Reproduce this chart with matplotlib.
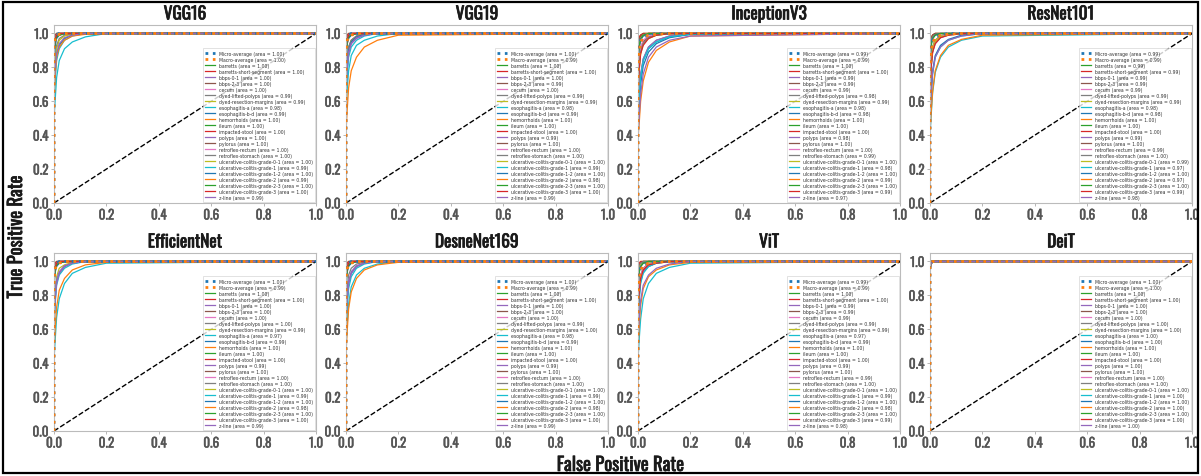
import matplotlib
matplotlib.use("Agg")
import matplotlib.pyplot as plt
import matplotlib.patheffects as pe
from matplotlib.patches import Rectangle

models = ["VGG16", "VGG19", "InceptionV3", "ResNet101",
          "EfficientNet", "DesneNet169", "ViT", "DeiT"]

classes = ["barretts", "barretts-short-segment", "bbps-0-1", "bbps-2-3", "cecum",
           "dyed-lifted-polyps", "dyed-resection-margins", "esophagitis-a",
           "esophagitis-b-d", "hemorrhoids", "ileum", "impacted-stool", "polyps",
           "pylorus", "retroflex-rectum", "retroflex-stomach",
           "ulcerative-colitis-grade-0-1", "ulcerative-colitis-grade-1",
           "ulcerative-colitis-grade-1-2", "ulcerative-colitis-grade-2",
           "ulcerative-colitis-grade-2-3", "ulcerative-colitis-grade-3", "z-line"]

# shared false-positive-rate grid for the per-class curves
fpr_grid = [0.0, 0.0, 0.005, 0.01, 0.02, 0.04, 0.07, 0.12, 0.2, 1.0]

# areas: micro, macro, then each class
auc_vgg16 = [1.00, 1.00, 1.00, 1.00, 1.00, 1.00, 1.00, 0.99, 0.99, 0.98, 0.99, 1.00, 1.00,
             1.00, 1.00, 1.00, 1.00, 1.00, 1.00, 0.99, 1.00, 0.99, 1.00, 1.00, 0.99]
auc_vgg19 = [1.00, 0.99, 1.00, 1.00, 1.00, 0.99, 1.00, 0.99, 0.99, 0.98, 0.99, 1.00, 1.00,
             1.00, 0.99, 1.00, 1.00, 1.00, 1.00, 0.99, 1.00, 0.98, 1.00, 1.00, 0.99]
auc_inception = [0.99, 0.99, 1.00, 1.00, 0.99, 0.99, 0.99, 0.98, 0.99, 0.98, 0.98, 1.00, 1.00,
                 1.00, 0.98, 1.00, 1.00, 0.99, 1.00, 0.98, 1.00, 0.99, 1.00, 0.99, 0.97]
auc_resnet = [0.99, 0.99, 0.99, 0.99, 0.99, 0.99, 0.99, 0.99, 0.99, 0.98, 0.98, 1.00, 1.00,
              1.00, 0.99, 1.00, 0.99, 1.00, 0.99, 0.97, 1.00, 0.97, 1.00, 0.99, 0.98]
auc_efficient = [1.00, 0.99, 1.00, 1.00, 1.00, 1.00, 1.00, 1.00, 0.99, 0.97, 0.99, 1.00, 1.00,
                 1.00, 0.99, 1.00, 1.00, 1.00, 1.00, 0.99, 1.00, 0.98, 1.00, 1.00, 0.99]
auc_densenet = [1.00, 0.99, 1.00, 1.00, 1.00, 1.00, 1.00, 0.99, 1.00, 0.98, 0.99, 1.00, 1.00,
                1.00, 0.99, 1.00, 1.00, 1.00, 1.00, 0.99, 1.00, 0.98, 1.00, 1.00, 0.99]
auc_vit = [0.99, 0.99, 1.00, 1.00, 0.99, 0.99, 0.99, 0.99, 0.99, 0.97, 0.99, 1.00, 1.00,
           1.00, 0.99, 1.00, 0.99, 1.00, 1.00, 0.99, 1.00, 0.98, 1.00, 0.99, 0.98]
auc_deit = [1.00] * 25

# true-positive rates on fpr_grid: micro, macro, then each class
tpr_vgg16 = [
    [0, .95, .985, .995, 1, 1, 1, 1, 1, 1],
    [0, .92, .97, .99, .995, 1, 1, 1, 1, 1],
    [0, .92, .97, .99, 1, 1, 1, 1, 1, 1],
    [0, .90, .96, .98, .995, 1, 1, 1, 1, 1],
    [0, .95, .98, .99, 1, 1, 1, 1, 1, 1],
    [0, .94, .98, .99, 1, 1, 1, 1, 1, 1],
    [0, .90, .96, .985, .995, 1, 1, 1, 1, 1],
    [0, .75, .87, .93, .97, .99, 1, 1, 1, 1],
    [0, .70, .84, .91, .96, .985, .995, 1, 1, 1],
    [0, .50, .62, .74, .84, .91, .95, .98, 1, 1],
    [0, .65, .78, .87, .93, .97, .99, 1, 1, 1],
    [0, .97, .99, 1, 1, 1, 1, 1, 1, 1],
    [0, .96, .99, 1, 1, 1, 1, 1, 1, 1],
    [0, .97, .99, 1, 1, 1, 1, 1, 1, 1],
    [0, .88, .95, .98, .99, 1, 1, 1, 1, 1],
    [0, .95, .98, .995, 1, 1, 1, 1, 1, 1],
    [0, .93, .97, .99, 1, 1, 1, 1, 1, 1],
    [0, .94, .98, .99, 1, 1, 1, 1, 1, 1],
    [0, .90, .96, .98, .99, 1, 1, 1, 1, 1],
    [0, .60, .74, .84, .91, .96, .985, 1, 1, 1],
    [0, .85, .93, .97, .99, 1, 1, 1, 1, 1],
    [0, .62, .76, .86, .92, .96, .985, .995, 1, 1],
    [0, .88, .95, .98, .99, 1, 1, 1, 1, 1],
    [0, .92, .97, .99, 1, 1, 1, 1, 1, 1],
    [0, .68, .80, .88, .94, .975, .99, 1, 1, 1],
]
tpr_vgg19 = [
    [0, .94, .98, .99, 1, 1, 1, 1, 1, 1],
    [0, .90, .96, .98, .99, 1, 1, 1, 1, 1],
    [0, .93, .98, .99, 1, 1, 1, 1, 1, 1],
    [0, .88, .95, .98, .99, 1, 1, 1, 1, 1],
    [0, .94, .98, .99, 1, 1, 1, 1, 1, 1],
    [0, .72, .85, .92, .96, .985, .995, 1, 1, 1],
    [0, .92, .97, .99, 1, 1, 1, 1, 1, 1],
    [0, .74, .86, .92, .96, .985, 1, 1, 1, 1],
    [0, .68, .82, .90, .95, .98, .995, 1, 1, 1],
    [0, .55, .68, .78, .87, .93, .96, .985, 1, 1],
    [0, .70, .83, .90, .95, .98, .995, 1, 1, 1],
    [0, .97, .99, 1, 1, 1, 1, 1, 1, 1],
    [0, .96, .99, 1, 1, 1, 1, 1, 1, 1],
    [0, .96, .99, 1, 1, 1, 1, 1, 1, 1],
    [0, .66, .80, .89, .94, .975, .99, 1, 1, 1],
    [0, .95, .98, .99, 1, 1, 1, 1, 1, 1],
    [0, .92, .97, .99, 1, 1, 1, 1, 1, 1],
    [0, .93, .97, .99, 1, 1, 1, 1, 1, 1],
    [0, .88, .95, .98, .99, 1, 1, 1, 1, 1],
    [0, .62, .76, .86, .92, .96, .985, 1, 1, 1],
    [0, .86, .94, .97, .99, 1, 1, 1, 1, 1],
    [0, .42, .56, .68, .78, .86, .92, .96, .99, 1],
    [0, .88, .95, .98, .99, 1, 1, 1, 1, 1],
    [0, .92, .97, .99, 1, 1, 1, 1, 1, 1],
    [0, .66, .80, .88, .94, .97, .99, 1, 1, 1],
]
tpr_inception = [
    [0, .85, .93, .96, .98, .99, 1, 1, 1, 1],
    [0, .80, .90, .95, .975, .99, .995, 1, 1, 1],
    [0, .88, .95, .98, .99, 1, 1, 1, 1, 1],
    [0, .85, .93, .97, .99, 1, 1, 1, 1, 1],
    [0, .72, .84, .91, .95, .98, .995, 1, 1, 1],
    [0, .70, .82, .90, .95, .98, .99, 1, 1, 1],
    [0, .74, .86, .92, .96, .985, .995, 1, 1, 1],
    [0, .50, .64, .75, .85, .92, .96, .985, 1, 1],
    [0, .66, .80, .88, .94, .97, .99, 1, 1, 1],
    [0, .48, .62, .74, .84, .91, .95, .98, .995, 1],
    [0, .45, .58, .70, .81, .89, .94, .975, .995, 1],
    [0, .94, .98, .99, 1, 1, 1, 1, 1, 1],
    [0, .93, .97, .99, 1, 1, 1, 1, 1, 1],
    [0, .95, .98, .99, 1, 1, 1, 1, 1, 1],
    [0, .52, .65, .76, .85, .92, .96, .985, 1, 1],
    [0, .90, .96, .98, .995, 1, 1, 1, 1, 1],
    [0, .86, .94, .97, .99, 1, 1, 1, 1, 1],
    [0, .68, .81, .89, .94, .975, .99, 1, 1, 1],
    [0, .85, .93, .97, .99, 1, 1, 1, 1, 1],
    [0, .50, .63, .74, .84, .91, .95, .98, .995, 1],
    [0, .84, .92, .96, .985, .995, 1, 1, 1, 1],
    [0, .38, .48, .60, .72, .83, .90, .95, .985, 1],
    [0, .86, .93, .97, .99, 1, 1, 1, 1, 1],
    [0, .66, .79, .88, .93, .97, .99, 1, 1, 1],
    [0, .40, .52, .64, .76, .86, .92, .96, .985, 1],
]
tpr_resnet = [
    [0, .84, .92, .96, .98, .99, 1, 1, 1, 1],
    [0, .80, .90, .95, .97, .99, .995, 1, 1, 1],
    [0, .72, .85, .92, .96, .985, .995, 1, 1, 1],
    [0, .70, .84, .91, .96, .98, .995, 1, 1, 1],
    [0, .74, .86, .92, .96, .985, 1, 1, 1, 1],
    [0, .70, .83, .90, .95, .98, .995, 1, 1, 1],
    [0, .72, .85, .91, .96, .985, .995, 1, 1, 1],
    [0, .68, .82, .90, .95, .98, .995, 1, 1, 1],
    [0, .73, .85, .92, .96, .985, .995, 1, 1, 1],
    [0, .52, .65, .76, .86, .92, .96, .985, 1, 1],
    [0, .55, .68, .78, .87, .93, .965, .99, 1, 1],
    [0, .94, .98, .99, 1, 1, 1, 1, 1, 1],
    [0, .93, .97, .99, 1, 1, 1, 1, 1, 1],
    [0, .93, .97, .99, 1, 1, 1, 1, 1, 1],
    [0, .68, .81, .89, .94, .975, .99, 1, 1, 1],
    [0, .92, .97, .99, 1, 1, 1, 1, 1, 1],
    [0, .70, .83, .90, .95, .98, .995, 1, 1, 1],
    [0, .90, .96, .98, .995, 1, 1, 1, 1, 1],
    [0, .70, .82, .90, .95, .98, .99, 1, 1, 1],
    [0, .40, .53, .65, .77, .86, .92, .96, .985, 1],
    [0, .86, .94, .97, .99, 1, 1, 1, 1, 1],
    [0, .42, .55, .66, .78, .87, .93, .965, .99, 1],
    [0, .86, .93, .97, .99, 1, 1, 1, 1, 1],
    [0, .68, .81, .89, .94, .975, .99, 1, 1, 1],
    [0, .54, .66, .77, .86, .92, .96, .985, 1, 1],
]
tpr_efficient = [
    [0, .95, .98, .99, 1, 1, 1, 1, 1, 1],
    [0, .90, .96, .98, .99, 1, 1, 1, 1, 1],
    [0, .94, .98, .99, 1, 1, 1, 1, 1, 1],
    [0, .90, .96, .98, .995, 1, 1, 1, 1, 1],
    [0, .95, .98, .99, 1, 1, 1, 1, 1, 1],
    [0, .93, .97, .99, 1, 1, 1, 1, 1, 1],
    [0, .92, .97, .99, 1, 1, 1, 1, 1, 1],
    [0, .89, .95, .98, .99, 1, 1, 1, 1, 1],
    [0, .72, .84, .91, .96, .98, .995, 1, 1, 1],
    [0, .42, .55, .67, .78, .87, .93, .965, .99, 1],
    [0, .66, .79, .88, .93, .97, .99, 1, 1, 1],
    [0, .97, .99, 1, 1, 1, 1, 1, 1, 1],
    [0, .96, .99, 1, 1, 1, 1, 1, 1, 1],
    [0, .96, .99, 1, 1, 1, 1, 1, 1, 1],
    [0, .68, .81, .89, .94, .975, .99, 1, 1, 1],
    [0, .95, .98, .99, 1, 1, 1, 1, 1, 1],
    [0, .93, .97, .99, 1, 1, 1, 1, 1, 1],
    [0, .93, .97, .99, 1, 1, 1, 1, 1, 1],
    [0, .88, .95, .98, .99, 1, 1, 1, 1, 1],
    [0, .62, .76, .86, .92, .96, .985, 1, 1, 1],
    [0, .86, .94, .97, .99, 1, 1, 1, 1, 1],
    [0, .48, .62, .73, .83, .90, .95, .98, .995, 1],
    [0, .88, .95, .98, .99, 1, 1, 1, 1, 1],
    [0, .92, .97, .99, 1, 1, 1, 1, 1, 1],
    [0, .64, .78, .87, .93, .97, .99, 1, 1, 1],
]
tpr_densenet = [
    [0, .95, .98, .99, 1, 1, 1, 1, 1, 1],
    [0, .90, .96, .98, .99, 1, 1, 1, 1, 1],
    [0, .94, .98, .99, 1, 1, 1, 1, 1, 1],
    [0, .91, .96, .985, .995, 1, 1, 1, 1, 1],
    [0, .95, .98, .99, 1, 1, 1, 1, 1, 1],
    [0, .93, .97, .99, 1, 1, 1, 1, 1, 1],
    [0, .92, .97, .99, 1, 1, 1, 1, 1, 1],
    [0, .72, .85, .92, .96, .985, .995, 1, 1, 1],
    [0, .90, .96, .98, .99, 1, 1, 1, 1, 1],
    [0, .50, .64, .75, .85, .92, .96, .985, 1, 1],
    [0, .64, .78, .87, .93, .97, .99, 1, 1, 1],
    [0, .97, .99, 1, 1, 1, 1, 1, 1, 1],
    [0, .96, .99, 1, 1, 1, 1, 1, 1, 1],
    [0, .96, .99, 1, 1, 1, 1, 1, 1, 1],
    [0, .66, .80, .88, .94, .975, .99, 1, 1, 1],
    [0, .95, .98, .99, 1, 1, 1, 1, 1, 1],
    [0, .93, .97, .99, 1, 1, 1, 1, 1, 1],
    [0, .93, .97, .99, 1, 1, 1, 1, 1, 1],
    [0, .88, .95, .98, .99, 1, 1, 1, 1, 1],
    [0, .60, .74, .84, .91, .96, .985, 1, 1, 1],
    [0, .86, .94, .97, .99, 1, 1, 1, 1, 1],
    [0, .46, .60, .72, .82, .90, .95, .98, .995, 1],
    [0, .88, .95, .98, .99, 1, 1, 1, 1, 1],
    [0, .92, .97, .99, 1, 1, 1, 1, 1, 1],
    [0, .64, .78, .87, .93, .97, .99, 1, 1, 1],
]
tpr_vit = [
    [0, .86, .93, .96, .98, .99, 1, 1, 1, 1],
    [0, .80, .90, .95, .975, .99, .995, 1, 1, 1],
    [0, .92, .97, .99, 1, 1, 1, 1, 1, 1],
    [0, .89, .95, .98, .99, 1, 1, 1, 1, 1],
    [0, .72, .85, .92, .96, .985, .995, 1, 1, 1],
    [0, .70, .84, .91, .96, .98, .995, 1, 1, 1],
    [0, .74, .86, .92, .96, .985, 1, 1, 1, 1],
    [0, .70, .83, .90, .95, .98, .995, 1, 1, 1],
    [0, .72, .85, .91, .96, .985, .995, 1, 1, 1],
    [0, .42, .55, .66, .78, .87, .93, .965, .99, 1],
    [0, .66, .80, .88, .94, .97, .99, 1, 1, 1],
    [0, .96, .99, 1, 1, 1, 1, 1, 1, 1],
    [0, .95, .98, .99, 1, 1, 1, 1, 1, 1],
    [0, .96, .99, 1, 1, 1, 1, 1, 1, 1],
    [0, .68, .81, .89, .94, .975, .99, 1, 1, 1],
    [0, .93, .97, .99, 1, 1, 1, 1, 1, 1],
    [0, .72, .84, .91, .96, .98, .995, 1, 1, 1],
    [0, .92, .97, .99, 1, 1, 1, 1, 1, 1],
    [0, .88, .95, .98, .99, 1, 1, 1, 1, 1],
    [0, .64, .78, .87, .93, .97, .99, 1, 1, 1],
    [0, .86, .94, .97, .99, 1, 1, 1, 1, 1],
    [0, .50, .63, .74, .84, .91, .95, .98, .995, 1],
    [0, .87, .94, .97, .99, 1, 1, 1, 1, 1],
    [0, .70, .82, .90, .95, .98, .99, 1, 1, 1],
    [0, .54, .67, .77, .86, .92, .96, .985, 1, 1],
]
tpr_deit = [
    [0, .98, .995, 1, 1, 1, 1, 1, 1, 1],
    [0, .97, .99, 1, 1, 1, 1, 1, 1, 1],
    [0, .98, 1, 1, 1, 1, 1, 1, 1, 1],
    [0, .97, .99, 1, 1, 1, 1, 1, 1, 1],
    [0, .99, 1, 1, 1, 1, 1, 1, 1, 1],
    [0, .98, 1, 1, 1, 1, 1, 1, 1, 1],
    [0, .97, .99, 1, 1, 1, 1, 1, 1, 1],
    [0, .98, 1, 1, 1, 1, 1, 1, 1, 1],
    [0, .96, .99, 1, 1, 1, 1, 1, 1, 1],
    [0, .95, .985, .995, 1, 1, 1, 1, 1, 1],
    [0, .96, .99, 1, 1, 1, 1, 1, 1, 1],
    [0, .99, 1, 1, 1, 1, 1, 1, 1, 1],
    [0, .99, 1, 1, 1, 1, 1, 1, 1, 1],
    [0, .99, 1, 1, 1, 1, 1, 1, 1, 1],
    [0, .96, .99, 1, 1, 1, 1, 1, 1, 1],
    [0, .99, 1, 1, 1, 1, 1, 1, 1, 1],
    [0, .98, 1, 1, 1, 1, 1, 1, 1, 1],
    [0, .98, 1, 1, 1, 1, 1, 1, 1, 1],
    [0, .97, .99, 1, 1, 1, 1, 1, 1, 1],
    [0, .96, .99, 1, 1, 1, 1, 1, 1, 1],
    [0, .97, .99, 1, 1, 1, 1, 1, 1, 1],
    [0, .95, .985, 1, 1, 1, 1, 1, 1, 1],
    [0, .97, .99, 1, 1, 1, 1, 1, 1, 1],
    [0, .98, 1, 1, 1, 1, 1, 1, 1, 1],
    [0, .96, .99, 1, 1, 1, 1, 1, 1, 1],
]

all_auc = [auc_vgg16, auc_vgg19, auc_inception, auc_resnet,
           auc_efficient, auc_densenet, auc_vit, auc_deit]
all_tpr = [tpr_vgg16, tpr_vgg19, tpr_inception, tpr_resnet,
           tpr_efficient, tpr_densenet, tpr_vit, tpr_deit]

cond = ["Oswald", "Roboto Condensed", "DejaVu Sans"]
plt.rcParams["font.family"] = cond
plt.rcParams["font.stretch"] = "condensed"

W, H = 1201, 477
fig = plt.figure(figsize=(W / 100, H / 100), dpi=100)
fig.patches.append(Rectangle((3 / W, 3 / H), (W - 6) / W, (H - 6) / H,
                             transform=fig.transFigure, fill=False,
                             edgecolor="black", linewidth=1.6))

bold_title = [pe.withStroke(linewidth=0.5, foreground="#1a1a1a")]
bold_tick = [pe.withStroke(linewidth=0.3, foreground="#555555")]

col_left = [54, 346, 638, 930]
ax_w = 262
row_top = [26, 254]
ax_h = 178
cycle = plt.rcParams["axes.prop_cycle"].by_key()["color"]

for i, name in enumerate(models):
    r, c = divmod(i, 4)
    left = col_left[c] / W
    bottom = 1 - (row_top[r] + ax_h) / H
    ax = fig.add_axes([left, bottom, ax_w / W, ax_h / H])
    aucs = all_auc[i]
    tprs = all_tpr[i]
    labels = ["Micro-average", "Macro-average"] + classes
    for k, lab in enumerate(labels):
        color = cycle[k % len(cycle)]
        if k < 2:
            ax.plot(fpr_grid, tprs[k], linestyle=":", linewidth=2, color=color,
                    zorder=4, label=f"{lab} (area = {aucs[k]:.2f})")
        else:
            ax.plot(fpr_grid, tprs[k], linewidth=0.9, color=color, zorder=2,
                    label=f"{lab} (area = {aucs[k]:.2f})")
    ax.plot([0, 1], [0, 1], "k--", linewidth=1, zorder=3)
    ax.set_xlim(0, 1)
    ax.set_ylim(0, 1.05)
    ax.set_xticks([0, 0.2, 0.4, 0.6, 0.8, 1.0])
    ax.set_yticks([0, 0.2, 0.4, 0.6, 0.8, 1.0])
    ax.tick_params(labelsize=9.5, colors="#555555", length=2, width=0.6,
                   color="#aaaaaa", pad=2)
    for lbl in ax.get_xticklabels() + ax.get_yticklabels():
        lbl.set_fontweight("bold")
        lbl.set_path_effects(bold_tick)
    for sp in ax.spines.values():
        sp.set_color("#bbbbbb")
        sp.set_linewidth(0.8)
    t = ax.set_title(name, fontsize=12.5, fontweight="bold", pad=4, color="#1a1a1a")
    t.set_path_effects(bold_title)
    leg = ax.legend(loc="lower right", labelspacing=0.22,
                    handlelength=2.2, borderpad=0.5, borderaxespad=0.2,
                    frameon=True, fancybox=False,
                    prop={"family": "DejaVu Sans", "stretch": "normal", "size": 3.3})
    leg.get_frame().set_edgecolor("#cccccc")
    leg.get_frame().set_linewidth(0.5)
    for tx in leg.get_texts():
        tx.set_color("#333333")

fig.text(16 / W, 0.5, "True Positive Rate", rotation=90, ha="center", va="center",
         fontsize=13.5, fontweight="bold", color="#1a1a1a", path_effects=bold_title)
fig.text(620 / W, 1 - 466 / H, "False Positive Rate", ha="center", va="center",
         fontsize=13.5, fontweight="bold", color="#1a1a1a", path_effects=bold_title)

fig.savefig("out.png", dpi=100)
